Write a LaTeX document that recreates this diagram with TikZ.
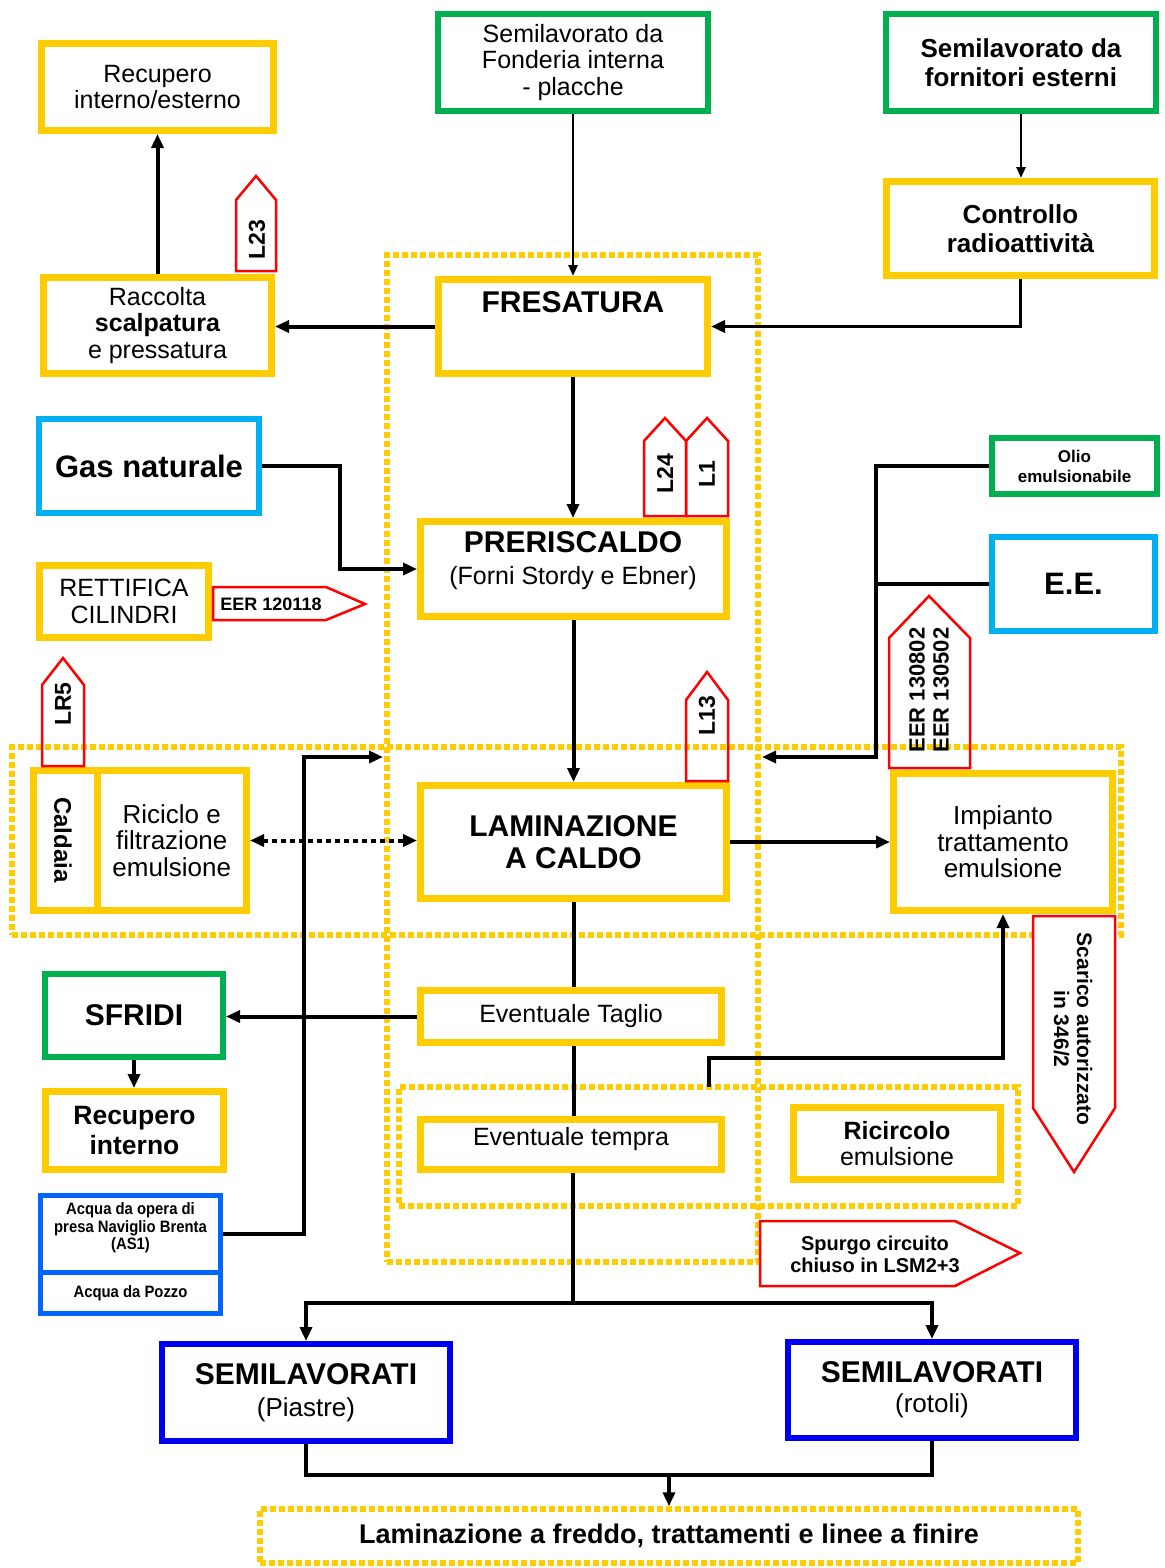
\documentclass[tikz,border=0pt]{standalone}
\usepackage{fontspec}
\setmainfont{Liberation Sans}
\newfontfamily\narrowfont[FakeStretch=0.9]{Liberation Sans}
\usetikzlibrary{arrows.meta}
\definecolor{yel}{RGB}{255,204,0}
\definecolor{grn}{RGB}{0,176,80}
\definecolor{cyn}{RGB}{0,176,240}
\definecolor{blu}{RGB}{0,0,240}
\definecolor{aqb}{RGB}{0,102,255}
\definecolor{tagred}{RGB}{255,0,0}
\newcommand\Fn{\fontsize{25}{26.5}\selectfont}
\newcommand\Fb{\fontsize{26}{29}\selectfont\bfseries}
\newcommand\Fbig{\fontsize{30}{32}\selectfont\bfseries}
\newcommand\bx[7]{\node[#1, minimum width={#5-#3}, minimum height={#6-#4}] (#2) at ({(#3+#5)/2},{(#4+#6)/2}) {#7};}
\tikzset{
  box/.style={draw, fill=white, inner sep=0pt, align=center, text=black},
  ybox/.style={box, draw=yel, line width=7pt},
  gbox/.style={box, draw=grn, line width=6pt},
  cbox/.style={box, draw=cyn, line width=6pt},
  bbox/.style={box, draw=blu, line width=6pt},
  abox/.style={box, draw=aqb, line width=5pt},
  dotgroup/.style={draw=yel, line width=5.5pt, dash pattern=on 6pt off 3pt, inner sep=0pt, align=center},
  tagline/.style={draw=tagred, line width=2.5pt, line join=miter},
  tagtxt/.style={inner sep=0pt, align=center, text=black},
  conn/.style={draw=black, line width=4pt},
  arr/.style={conn, -{Triangle[length=14pt,width=12pt]}},
  thinarr/.style={draw=black, line width=2.5pt, -{Triangle[length=11pt,width=9pt]}},
  dotarr/.style={draw=black, line width=4pt, dash pattern=on 5pt off 4pt, {Triangle[length=14pt,width=12pt]}-{Triangle[length=14pt,width=12pt]}},
}
\begin{document}
\begin{tikzpicture}[x=1pt, y=-1pt]
\useasboundingbox[fill=white] (0,0) rectangle (1164,1568);

% dotted groups
\bx{dotgroup}{gBig}{387}{255}{758}{1262}{}
\bx{dotgroup}{gLam}{12}{747}{1121}{935}{}
\bx{dotgroup}{gTem}{399}{1087}{1018}{1206}{}

% boxes
\bx{ybox, font=\Fn}{rec1}{41.5}{43.5}{273.5}{130.5}{Recupero\\interno/esterno}
\bx{ybox, font=\Fn}{racc}{43.5}{277.5}{271.5}{373.5}{Raccolta\\{\bfseries scalpatura}\\e pressatura}
\bx{gbox, font=\Fn}{fond}{438}{14}{708}{111}{Semilavorato da\\Fonderia interna\\- placche}
\bx{gbox, font=\Fb}{forn}{886}{14}{1156}{111}{Semilavorato da\\fornitori esterni}
\bx{ybox, font=\Fb}{ctrl}{886.5}{181.5}{1154.5}{275.5}{Controllo\\radioattività}
\bx{ybox}{fres}{438.5}{279.5}{707.5}{373.5}{}
\node[font=\Fbig, inner sep=0pt] (fresT) at (573,302) {FRESATURA};
\bx{cbox, font=\fontsize{31}{33}\selectfont\bfseries}{gas}{39}{419}{259}{513}{Gas naturale}
\bx{ybox}{pre}{420.5}{521.5}{726.5}{616.5}{}
\node[align=center, inner sep=0pt, font=\fontsize{30}{32}\selectfont] (preT) at (573,561) {{\bfseries PRERISCALDO}\\{\fontsize{25}{32}\selectfont (Forni Stordy e Ebner)}};
\bx{ybox, font=\Fn}{rett}{39.5}{565.5}{208.5}{637.5}{RETTIFICA\\CILINDRI}
\bx{gbox, font=\fontsize{17}{20}\selectfont\bfseries}{olio}{992}{438}{1157}{494}{Olio\\emulsionabile}
\bx{cbox, font=\fontsize{31}{33}\selectfont\bfseries}{ee}{992}{537}{1155}{631}{E.E.}
\bx{ybox}{cald}{33.5}{770.5}{97}{910.5}{}
\node[rotate=-90, font=\fontsize{24}{26}\selectfont\bfseries, inner sep=0pt] (caldT) at (63,840) {Caldaia};
\bx{ybox, font=\fontsize{26}{26.5}\selectfont}{ric}{97}{770.5}{246.5}{910.5}{Riciclo e\\filtrazione\\emulsione}
\bx{ybox, font=\Fbig}{lam}{420.5}{785.5}{726.5}{898.5}{LAMINAZIONE\\A CALDO}
\bx{ybox, font=\fontsize{26}{26.5}\selectfont}{imp}{893.5}{773.5}{1112.5}{910.5}{Impianto\\trattamento\\emulsione}
\bx{ybox, font=\Fn}{tag}{420.5}{990.5}{721.5}{1042.5}{Eventuale Taglio}
\bx{gbox, font=\Fbig}{sfridi}{45}{974}{223}{1057}{SFRIDI}
\bx{ybox, font=\fontsize{26.5}{29.5}\selectfont\bfseries}{recint}{45.5}{1091.5}{223.5}{1169.5}{Recupero\\interno}
\bx{ybox}{tempra}{420.5}{1119.5}{721.5}{1169.5}{}
\node[font=\Fn, inner sep=0pt] (tempraT) at (571,1139) {Eventuale tempra};
\bx{ybox, font=\Fn}{ricirc}{793.5}{1107.5}{1000.5}{1179.5}{{\bfseries Ricircolo}\\emulsione}
\bx{abox}{acq1}{40.5}{1195.5}{220.5}{1272}{}
\node[align=center, inner sep=0pt, font=\narrowfont\fontsize{16.5}{17.5}\selectfont\bfseries] (acq1T) at (130.5,1228) {Acqua da opera di\\presa Naviglio Brenta\\(AS1)};
\bx{abox, font=\narrowfont\fontsize{16.5}{17.5}\selectfont\bfseries}{acq2}{40.5}{1272}{220.5}{1313.5}{Acqua da Pozzo}
\bx{bbox, font=\fontsize{30}{32}\selectfont}{semi1}{162}{1344}{450}{1441}{{\bfseries SEMILAVORATI}\\{\fontsize{26}{32}\selectfont (Piastre)}}
\bx{bbox, font=\fontsize{30}{30}\selectfont}{semi2}{788}{1342}{1076}{1438}{{\bfseries SEMILAVORATI}\\{\fontsize{26}{30}\selectfont (rotoli)}}
\bx{dotgroup, font=\fontsize{27}{29}\selectfont\bfseries}{fin}{260}{1509}{1078}{1563}{Laminazione a freddo, trattamenti e linee a finire}

% tags
\draw[tagline] (236,271) -- (236,200) -- (256,176) -- (276,200) -- (276,271) -- cycle;
\node[tagtxt, rotate=90, font=\fontsize{23}{24}\selectfont\bfseries] (tL23) at (257,240) {L23};
\draw[tagline] (644,516) -- (644,441) -- (665,418) -- (686,441) -- (686,516) -- cycle;
\node[tagtxt, rotate=90, font=\fontsize{23}{24}\selectfont\bfseries] (tL24) at (665,474) {L24};
\draw[tagline] (686,516) -- (686,441) -- (707,418) -- (728,441) -- (728,516) -- cycle;
\node[tagtxt, rotate=90, font=\fontsize{23}{24}\selectfont\bfseries] (tL1) at (707,474) {L1};
\draw[tagline] (686,781) -- (686,700) -- (707,672) -- (728,700) -- (728,781) -- cycle;
\node[tagtxt, rotate=90, font=\fontsize{23}{24}\selectfont\bfseries] (tL13) at (707,716) {L13};
\draw[tagline] (42,766) -- (42,685) -- (63,658) -- (84,685) -- (84,766) -- cycle;
\node[tagtxt, rotate=90, font=\fontsize{23}{24}\selectfont\bfseries] (tLR5) at (63,704) {LR5};
\draw[tagline] (889,768) -- (889,638) -- (929,596) -- (970,638) -- (970,768) -- cycle;
\node[tagtxt, rotate=90, font=\fontsize{22}{24}\selectfont\bfseries] (tEER) at (929,690) {EER 130802\\EER 130502};
\draw[tagline, fill=white] (1033,916) -- (1033,1108) -- (1074,1172) -- (1115,1108) -- (1115,916) -- cycle;
\node[tagtxt, rotate=-90, font=\fontsize{21}{23}\selectfont\bfseries] (tSc) at (1073,1029) {Scarico autorizzato\\in 346/2};
\draw[tagline] (213,587) -- (326,587) -- (365,604) -- (326,620) -- (213,620) -- cycle;
\node[tagtxt, font=\fontsize{18}{20}\selectfont\bfseries] (tEER2) at (271,604) {EER 120118};
\draw[tagline] (760,1221) -- (955,1221) -- (1020,1253) -- (955,1286) -- (760,1286) -- cycle;
\node[tagtxt, font=\fontsize{20}{22}\selectfont\bfseries] (tSp) at (875,1254) {Spurgo circuito\\chiuso in LSM2+3};

% coordinates
\coordinate (jR) at (876,757);
\coordinate (tipR) at (762,757);
\coordinate (jL) at (304,757);
\coordinate (tipL) at (383,757);
\coordinate (s1) at (709,1087);
\coordinate (jB) at (573,1303);
\coordinate (jC) at (669,1475);

% connectors
\draw[arr] (racc.north) -- (rec1.south);
\draw[thinarr] (fond.south) -- (fond.south |- fres.north);
\draw[thinarr] (forn.south) -- (forn.south |- ctrl.north);
\draw[arr, line width=3.5pt] (ctrl.south) |- (fres.east);
\draw[arr] (fres.west) -- (fres.west -| racc.east);
\draw[arr] (fres.south) -- (fres.south |- pre.north);
\draw[arr] (gas.east) -- (340,466) |- (pre.west);
\draw[dotarr] (ric.east) -- (ric.east -| lam.west);
\draw[arr] (pre.south) -- (pre.south |- lam.north);
\draw[arr] (lam.east) -- (lam.east -| imp.west);
\draw[arr] (olio.west) -| (jR) -- (tipR);
\draw[conn] (ee.west) -- (ee.west -| jR);
\draw[arr] (acq1.east) -| (jL) -- (tipL);
\draw[conn] (lam.south) -- (lam.south |- tag.north);
\draw[arr] (tag.west) -- (tag.west -| sfridi.east);
\draw[arr] (sfridi.south) -- (sfridi.south |- recint.north);
\draw[conn] (tag.south -| lam.south) -- (tempra.north -| lam.south);
\draw[arr] (s1) -- (709,1058) -| (imp.south);
\draw[conn] (tempra.south -| jB) -- (jB);
\draw[arr] (jB) -| (semi1.north);
\draw[arr] (jB) -| (semi2.north);
\draw[conn] (semi1.south) |- (jC);
\draw[conn] (semi2.south) |- (jC);
\draw[arr] (jC) -- (fin.north);
\end{tikzpicture}
\end{document}
